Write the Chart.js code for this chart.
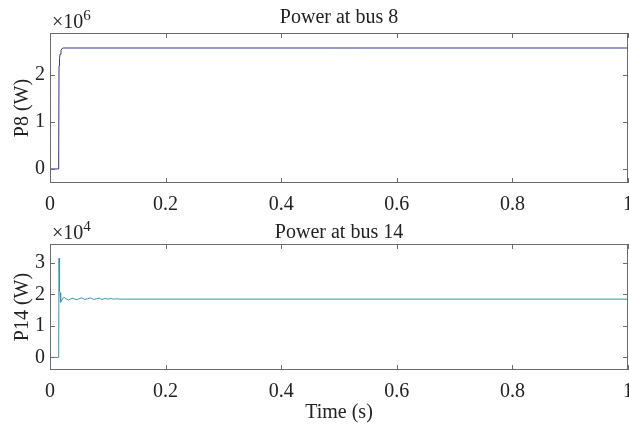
<!DOCTYPE html>
<html>
<head>
<meta charset="utf-8">
<script src="https://cdn.jsdelivr.net/npm/chart.js@4/dist/chart.umd.min.js"></script>
<style>
  html, body { margin: 0; padding: 0; background: #fff; }
  .wrap { position: absolute; left: 0; width: 629px; }
  #top { top: 0; height: 215px; }
  #bot { top: 215px; height: 211px; }
</style>
</head>
<body>
<div class="wrap" id="top"><canvas id="p8Chart"></canvas></div>
<div class="wrap" id="bot"><canvas id="p14Chart"></canvas></div>
<script>
// time axis
const xTicks = [0, 0.2, 0.4, 0.6, 0.8, 1];

// power at bus 8 (W)
const p8Time = [0, 0.0150, 0.0156, 0.0165, 0.0175, 0.0190, 0.0210, 0.0230, 1];
const p8Power = [0, 0, 2.20e6, 2.35e6, 2.45e6, 2.53e6, 2.57e6, 2.58e6, 2.58e6];
const p8Ticks = [0, 1e6, 2e6];

// power at bus 14 (W)
const p14Time = [0, 0.0150, 0.0156, 0.0162, 0.0168, 0.0175, 0.0185, 0.0200, 0.0220,
  0.0250, 0.0280, 0.0320, 0.0360, 0.0400, 0.0450, 0.0500, 0.0550, 0.0600, 0.0650,
  0.0700, 0.0750, 0.0800, 0.0850, 0.0900, 0.0950, 0.1000, 0.1050, 0.1100, 0.1150,
  0.1200, 0.1300, 1];
const p14Power = [0, 0, 3.15e4, 2.60e4, 2.10e4, 2.05e4, 1.75e4, 1.80e4, 1.88e4,
  1.90e4, 1.86e4, 1.82e4, 1.86e4, 1.88e4, 1.83e4, 1.86e4, 1.89e4, 1.84e4, 1.86e4,
  1.89e4, 1.84e4, 1.86e4, 1.88e4, 1.84e4, 1.87e4, 1.85e4, 1.87e4, 1.85e4, 1.86e4,
  1.85e4, 1.85e4, 1.85e4];
const p14Ticks = [0, 1e4, 2e4, 3e4];

const FONT = '"Liberation Serif", "Times New Roman", serif';
const AXIS_COLOR = '#6b6b6b';

// matlab style box with inward ticks + exponent label
const boxPlugin = {
    id: 'matlabBox',
    afterDatasetsDraw(chart, args, opts) {
        const {ctx, chartArea: a, scales} = chart;
        ctx.save();
        ctx.strokeStyle = AXIS_COLOR;
        ctx.lineWidth = 1;
        ctx.strokeRect(a.left + 0.5, a.top + 0.5, a.right - a.left - 1, a.bottom - a.top - 1);
        const len = 5;
        ctx.beginPath();
        scales.x.ticks.forEach(t => {
            const px = Math.round(scales.x.getPixelForValue(t.value)) + 0.5;
            ctx.moveTo(px, a.bottom); ctx.lineTo(px, a.bottom - len);
            ctx.moveTo(px, a.top); ctx.lineTo(px, a.top + len);
        });
        scales.y.ticks.forEach(t => {
            const py = Math.round(scales.y.getPixelForValue(t.value)) + 0.5;
            ctx.moveTo(a.left, py); ctx.lineTo(a.left + len, py);
            ctx.moveTo(a.right, py); ctx.lineTo(a.right - len, py);
        });
        ctx.stroke();
        // exponent
        ctx.fillStyle = '#222';
        ctx.textBaseline = 'alphabetic';
        ctx.font = '20px ' + FONT;
        const base = a.top - 5;
        ctx.fillText('\u00d710', a.left + 2, base);
        const w = ctx.measureText('\u00d710').width;
        ctx.font = '15px ' + FONT;
        ctx.fillText(opts.exp, a.left + 2 + w, base - 8);
        ctx.restore();
    }
};

function fixBox(scale) {
    scale.paddingLeft = 0;
    scale.paddingRight = 0;
    scale.paddingTop = 0;
    scale.paddingBottom = 0;
}

function make_options(cfg) {
    return {
        responsive: true,
        maintainAspectRatio: false,
        animation: false,
        layout: { padding: { left: 0, right: 1, top: 0, bottom: 0 } },
        elements: { point: { radius: 0 }, line: { tension: 0, borderWidth: 1 } },
        plugins: {
            legend: { display: false },
            tooltip: { enabled: false },
            title: {
                display: true,
                text: cfg.title,
                fullSize: false,
                color: '#222',
                font: { family: FONT, size: 20, weight: 'normal', lineHeight: cfg.titleLh },
                padding: cfg.titlePad
            },
            matlabBox: { exp: cfg.exp }
        },
        scales: {
            x: {
                type: 'linear',
                min: 0,
                max: 1,
                grid: { display: false, drawTicks: false },
                border: { display: false },
                afterBuildTicks: s => { s.ticks = xTicks.map(v => ({ value: v })); },
                afterFit: s => { s.height = cfg.xHeight; fixBox(s); },
                ticks: {
                    color: '#222',
                    padding: 10,
                    maxRotation: 0,
                    font: { family: FONT, size: 20 },
                    callback: v => String(Math.round(v * 10) / 10)
                },
                title: {
                    display: !!cfg.xTitle,
                    text: cfg.xTitle,
                    color: '#222',
                    font: { family: FONT, size: 20 },
                    padding: { top: 0, bottom: 1 }
                }
            },
            y: {
                min: cfg.yMin,
                max: cfg.yMax,
                grid: { display: false, drawTicks: false },
                border: { display: false },
                afterBuildTicks: s => { s.ticks = cfg.yTicks.map(v => ({ value: v })); },
                afterFit: s => { s.width = 50; fixBox(s); },
                ticks: {
                    color: '#222',
                    padding: 5,
                    font: { family: FONT, size: 20 },
                    callback: v => String(Math.round(v / cfg.scale))
                },
                title: {
                    display: true,
                    text: cfg.yTitle,
                    color: '#222',
                    font: { family: FONT, size: 20 },
                    padding: { top: 11, bottom: 0 }
                }
            }
        }
    };
}

const ctxP8 = document.getElementById('p8Chart');
const p8Chart = new Chart(ctxP8, {
    type: 'line',
    data: {
        datasets: [{
            data: p8Time.map((t, i) => ({ x: t, y: p8Power[i] })),
            borderColor: '#34358f',
            fill: false
        }]
    },
    options: make_options({
        title: 'Power at bus 8', titleLh: 1.2, titlePad: { top: 6, bottom: 3 },
        exp: '6', scale: 1e6, yMin: -0.3e6, yMax: 2.9e6, yTicks: p8Ticks,
        yTitle: 'P8 (W)', xHeight: 32, xTitle: ''
    }),
    plugins: [boxPlugin]
});

const ctxP14 = document.getElementById('p14Chart');
const p14Chart = new Chart(ctxP14, {
    type: 'line',
    data: {
        datasets: [{
            data: p14Time.map((t, i) => ({ x: t, y: p14Power[i] })),
            borderColor: '#3796aa',
            fill: false
        }]
    },
    options: make_options({
        title: 'Power at bus 14', titleLh: 1.1, titlePad: { top: 7, bottom: 0 },
        exp: '4', scale: 1e4, yMin: -0.4e4, yMax: 3.6e4, yTicks: p14Ticks,
        yTitle: 'P14 (W)', xHeight: 56, xTitle: 'Time (s)'
    }),
    plugins: [boxPlugin]
});
</script>
</body>
</html>
